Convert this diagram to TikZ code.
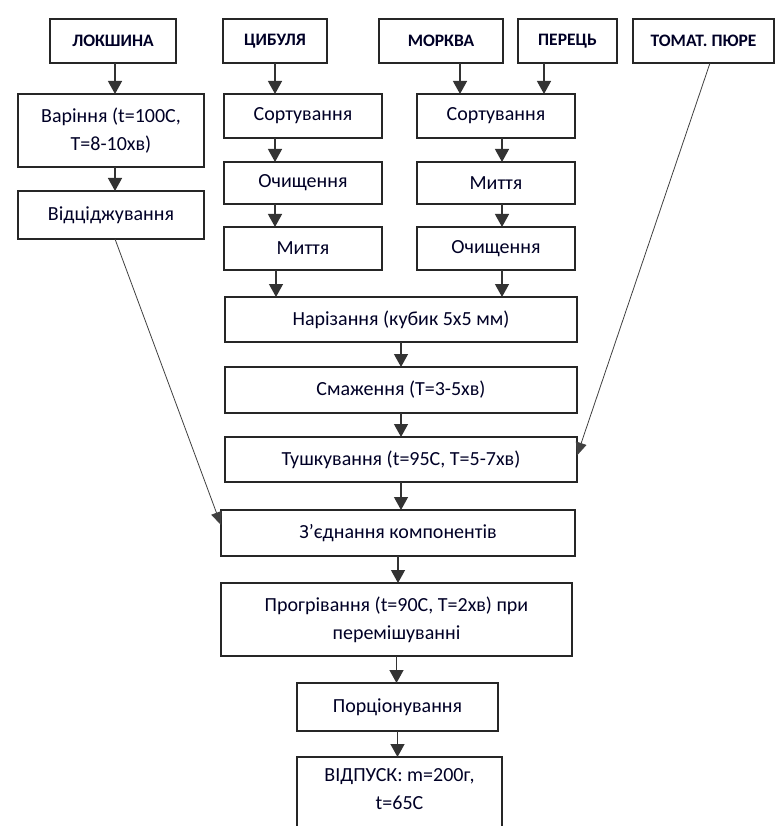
\documentclass[tikz,border=0pt]{standalone}
\usepackage{fontspec}
\setmainfont{Carlito}
\usetikzlibrary{arrows.meta}
\tikzset{
  box/.style={draw=black!85, line width=1.8pt, fill=white, inner sep=0pt, outer sep=0pt, align=center,
    font=\fontsize{20}{28}\selectfont, text=black!85!blue},
  head/.style={box, font=\fontsize{17.5}{20}\selectfont\bfseries},
  arr/.style={draw=black!80, line width=1.3pt, -{Triangle[width=14pt,length=13pt]}},
  diag/.style={draw=black!75, line width=0.8pt, -{Triangle[width=11pt,length=13pt]}},
}
\begin{document}
\begin{tikzpicture}[x=1pt,y=-1pt]
\useasboundingbox (0,0) rectangle (776,826);
\clip (0,0) rectangle (776,826);
% top row
\node[head, minimum width=126, minimum height=44] (lok) at (113,41) {ЛОКШИНА};
\node[head, minimum width=104, minimum height=44] (cyb) at (275,41) {ЦИБУЛЯ};
\node[head, minimum width=124, minimum height=44] (mork) at (441,41) {МОРКВА};
\node[head, minimum width=99, minimum height=44] (per) at (567.5,41) {ПЕРЕЦЬ};
\node[head, minimum width=141, minimum height=44] (tom) at (703.5,41) {ТОМАТ. ПЮРЕ};
% left column
\node[box, minimum width=186, minimum height=73] (var) at (111,130.5) {Варіння (t=100С,\\T=8-10хв)};
\node[box, minimum width=186, minimum height=48] (vid) at (111,215) {Відціджування};
% onion column
\node[box, minimum width=158, minimum height=44] (s1) at (303,116) {Сортування};
\node[box, minimum width=158, minimum height=42] (o1) at (303,183) {Очищення};
\node[box, minimum width=158, minimum height=43] (m1) at (303,248.5) {Миття};
% carrot column
\node[box, minimum width=158, minimum height=44] (s2) at (496,116) {Сортування};
\node[box, minimum width=158, minimum height=42] (m2) at (496,183) {Миття};
\node[box, minimum width=158, minimum height=43] (o2) at (496,248.5) {Очищення};
% main column
\node[box, minimum width=352, minimum height=45] (nar) at (401,319.5) {Нарізання (кубик 5х5 мм)};
\node[box, minimum width=352, minimum height=46] (sma) at (401,390) {Смаження (Т=3-5хв)};
\node[box, minimum width=352, minimum height=45] (tus) at (401,459.5) {Тушкування (t=95С, T=5-7хв)};
\node[box, minimum width=354, minimum height=46] (zed) at (398,533) {З'єднання компонентів};
\node[box, minimum width=351, minimum height=73] (pro) at (396.5,619.5) {Прогрівання (t=90С, T=2хв) при\\перемішуванні};
\node[box, minimum width=201, minimum height=48] (por) at (397.5,707) {Порціонування};
\node[box, minimum width=205, minimum height=90, anchor=north] (vip) at (399.5,757) {};
\node[font=\fontsize{20}{28}\selectfont, text=black!85!blue, align=center, anchor=north] (viptxt) at (vip.north) [yshift=-8pt] {ВІДПУСК: m=200г,\\t=65С};
% arrows
\draw[arr] ([xshift=2pt]lok.south) -- ([xshift=2pt]lok.south |- var.north);
\draw[arr] ([xshift=4pt]var.south) -- ([xshift=4pt]var.south |- vid.north);
\draw[arr] (cyb.south) -- (cyb.south |- s1.north);
\draw[arr] (cyb.south |- s1.south) -- (cyb.south |- o1.north);
\draw[arr] (cyb.south |- o1.south) -- (cyb.south |- m1.north);
\draw[arr] ([xshift=1pt]cyb.south |- m1.south) -- ([xshift=1pt]cyb.south |- nar.north);
\draw[arr] ([xshift=19pt]mork.south) -- ([xshift=19pt]mork.south |- s2.north);
\draw[arr] ([xshift=-23.5pt]per.south) -- ([xshift=-23.5pt]per.south |- s2.north);
\draw[arr] ([xshift=6pt]s2.south) -- ([xshift=6pt]m2.north);
\draw[arr] ([xshift=6pt]m2.south) -- ([xshift=6pt]o2.north);
\draw[arr] ([xshift=6pt]o2.south) -- ([xshift=6pt]o2.south |- nar.north);
\draw[arr] (nar.south) -- (nar.south |- sma.north);
\draw[arr] (sma.south) -- (sma.south |- tus.north);
\draw[arr] (tus.south) -- (tus.south |- zed.north);
\draw[arr] (zed.south) -- (zed.south |- pro.north);
\draw[arr] (pro.south) -- (pro.south |- por.north);
\draw[arr] (por.south) -- (por.south |- vip.north);
\draw[diag] ([xshift=4pt]vid.south) -- ([yshift=8pt]zed.west);
\draw[diag] ([xshift=6.5pt]tom.south) -- ([yshift=4pt]tus.east);
\end{tikzpicture}
\end{document}
